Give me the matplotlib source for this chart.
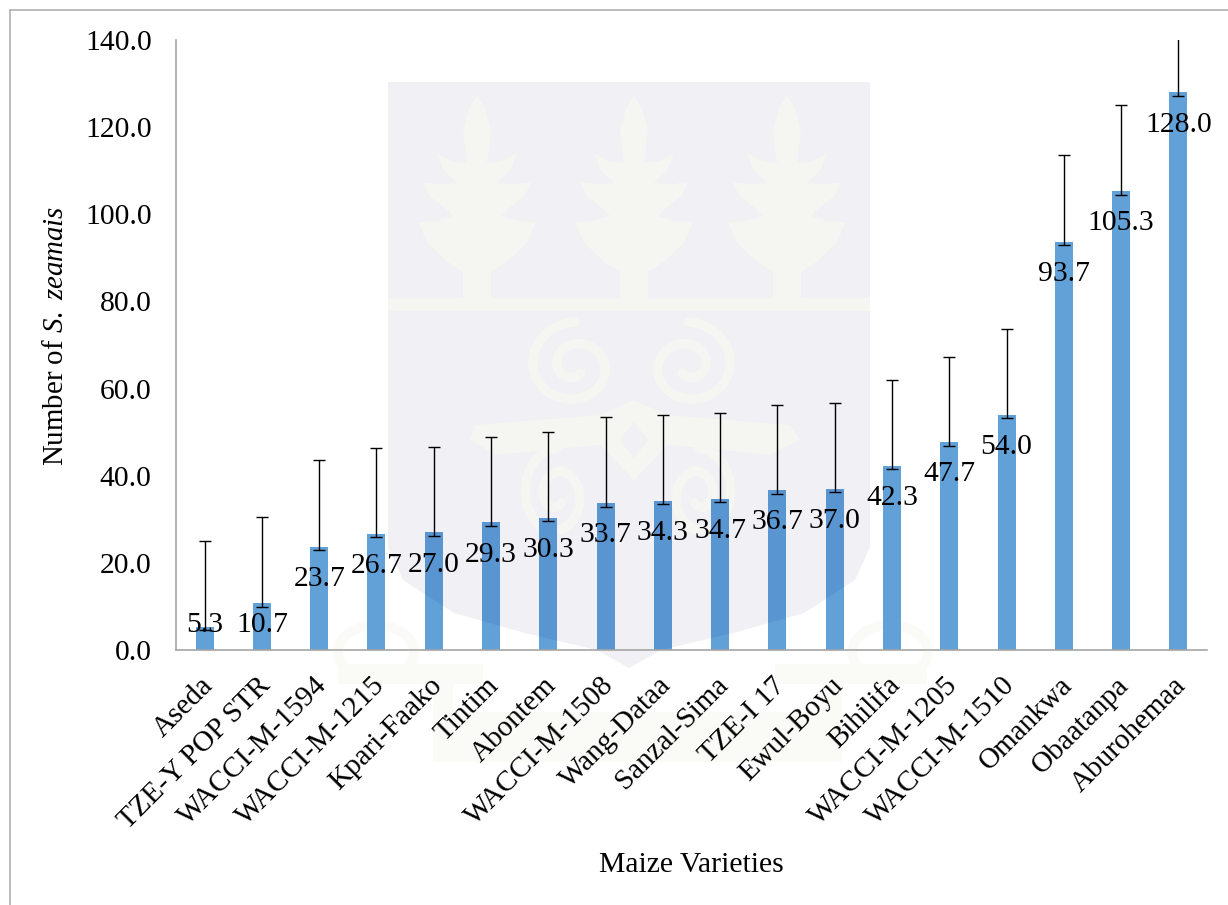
import matplotlib
matplotlib.use('Agg')
import matplotlib.pyplot as plt
from matplotlib.patches import Polygon, Rectangle, Ellipse
from matplotlib.path import Path
from matplotlib.transforms import Affine2D, IdentityTransform
import numpy as np

# values
varieties = ["Aseda", "TZE-Y POP STR", "WACCI-M-1594", "WACCI-M-1215", "Kpari-Faako", "Tintim",
             "Abontem", "WACCI-M-1508", "Wang-Dataa", "Sanzal-Sima", "TZE-I 17", "Ewul-Boyu",
             "Bihilifa", "WACCI-M-1205", "WACCI-M-1510", "Omankwa", "Obaatanpa", "Aburohemaa"]
means = [5.3, 10.7, 23.7, 26.7, 27.0, 29.3, 30.3, 33.7, 34.3, 34.7, 36.7, 37.0,
         42.3, 47.7, 54.0, 93.7, 105.3, 128.0]
err_up = [19.7, 19.8, 19.8, 19.7, 19.7, 19.7, 19.7, 19.8, 19.7, 19.8, 19.6, 19.8,
          19.7, 19.6, 19.6, 19.8, 19.7, 19.7]
err_down = [0.8] * 18

W, H = 1228, 905
LIGHT = '#f5f5f2'
SHIELD = '#f0f0f5'
SCROLL = '#fafaf7'

plt.rcParams['font.family'] = ['Liberation Serif', 'DejaVu Serif']
plt.rcParams['mathtext.fontset'] = 'custom'
plt.rcParams['mathtext.it'] = 'Liberation Serif:italic'
plt.rcParams['mathtext.rm'] = 'Liberation Serif'

fig = plt.figure(figsize=(W / 100, H / 100), dpi=100)
ax = fig.add_axes([176 / W, 1 - 650 / H, (1207 - 176) / W, (650 - 40) / H])
ax.patch.set_alpha(0)

# the crest behind the chart is drawn in picture pixels, y going down
px = Affine2D().scale(1, -1).translate(0, H)


def crest(patch, z=1.1):
    patch.set_transform(px)
    patch.set_clip_on(False)
    patch.set_zorder(z)
    ax.add_artist(patch)
    return patch


def shield_points():
    left = [(388, 82), (388, 547), (403, 580), (454, 613), (525, 633), (597, 650), (629, 668)]
    right = [(2 * 629 - a, b) for a, b in left[-2::-1]]
    return left + right


def tree(cx):
    half = [(0, 95), (8, 108), (14, 130), (12, 150), (10, 163), (25, 161), (40, 153), (34, 170),
            (20, 183), (38, 184), (54, 182), (48, 196), (36, 205), (24, 216), (42, 221), (59, 222),
            (50, 243), (30, 262), (14, 272), (14, 298)]
    pts = [(cx + a, b) for a, b in half] + [(cx - a, b) for a, b in half[::-1]]
    crest(Polygon(pts, closed=True, fc=LIGHT, ec='none'))


def spiral(cx, cy, rx, ry, flip, turns=1.6):
    t = np.linspace(0, turns * 2 * np.pi, 120)
    r = 1 - 0.8 * t / t[-1]
    a = -np.pi / 2 + flip * t
    ax.plot(cx + rx * r * np.cos(a), cy + ry * r * np.sin(a), color=LIGHT, lw=7,
            transform=px, clip_on=False, zorder=1.1, solid_capstyle='round')


crest(Polygon(shield_points(), closed=True, fc=SHIELD, ec='none'), z=1)
for cx in [477, 634, 787]:
    tree(cx)
crest(Rectangle((388, 298), 482, 13, fc=LIGHT, ec='none'))
spiral(575, 366, 48, 44, -1)
spiral(688, 366, 48, 44, 1)
spiral(557, 495, 36, 47, -1)
spiral(699, 495, 36, 47, 1)
crest(Polygon([(475, 425), (600, 415), (634, 400), (668, 415), (790, 425), (800, 440), (770, 455),
               (668, 445), (634, 480), (600, 445), (495, 455), (470, 440)], closed=True, fc=LIGHT, ec='none'))
crest(Polygon([(634, 422), (648, 440), (634, 458), (620, 440)], closed=True, fc=SHIELD, ec='none'))

# scroll under the shield
for cx in [376, 890]:
    crest(Ellipse((cx, 652), 76, 54, fc='none', ec=SCROLL, lw=7))
crest(Rectangle((338, 664), 145, 20, fc=SCROLL, ec='none'))
crest(Rectangle((775, 664), 152, 20, fc=SCROLL, ec='none'))
crest(Rectangle((433, 684), 20, 30, fc=SCROLL, ec='none'))
crest(Rectangle((822, 684), 20, 30, fc=SCROLL, ec='none'))
crest(Rectangle((433, 712), 409, 50, fc=SCROLL, ec='none'))

x = np.arange(len(varieties))
bars = ax.bar(x, means, width=0.314, color='#62a0d8', zorder=2)
ax.errorbar(x, means, yerr=[err_down, err_up], fmt='none', ecolor='black', elinewidth=1, capsize=4.3,
            capthick=1, zorder=3)

# labels sit just under the top of each bar, but never lower than the first two
for i, m in enumerate(means):
    ax.text(i, max(m - 7.4, 5.8), f"{m:.1f}", ha='center', va='center', fontsize=21.3,
            color='black', zorder=4)

ax.set_xlim(-0.5, 17.5)
ax.set_ylim(0, 140)
ticks = np.arange(0, 141, 20)
ax.set_yticks(ticks)
ax.set_yticklabels([f"{t:.1f}" for t in ticks], fontsize=21.3)
ax.set_xticks(x)
ax.set_xticklabels(varieties, rotation=45, ha='right', rotation_mode='anchor', fontsize=21)
ax.tick_params(axis='y', length=0, pad=17.5)
ax.tick_params(axis='x', length=0, pad=16)
for lab in ax.get_xticklabels():
    lab.set_transform(lab.get_transform() + Affine2D().translate(-5, 0))
for s in ['top', 'right']:
    ax.spines[s].set_visible(False)
for s in ['left', 'bottom']:
    ax.spines[s].set_color('#a6a6a6')
    ax.spines[s].set_linewidth(1.2)
    ax.spines[s].set_zorder(5)

ax.set_ylabel(r"Number of $\mathit{S.}$ $\mathit{zeamais}$", fontsize=20.8)
ax.yaxis.set_label_coords((69 - 176) / 1031, (650 - 336) / 610)
fig.text(691 / W, 1 - 865 / H, "Maize Varieties", ha='center', va='center', fontsize=21.3)

# the crest shows through the bars, so they get darker where it passes
fig.canvas.draw()
bar_clip = Path.make_compound_path(*[b.get_path().transformed(b.get_transform()) for b in bars])
tint = crest(Polygon(shield_points(), closed=True, fc='#103a9a', ec='none', alpha=0.1), z=2.2)
tint.set_clip_on(True)
tint.set_clip_path(bar_clip, IdentityTransform())

# thin page frame around the chart
fig.add_artist(plt.Line2D([10 / W, 1], [1 - 10 / H, 1 - 10 / H], color='#b0b0b0', lw=1.2))
fig.add_artist(plt.Line2D([10 / W, 10 / W], [0, 1 - 10 / H], color='#b0b0b0', lw=1.2))

fig.savefig('out.png', dpi=100)
